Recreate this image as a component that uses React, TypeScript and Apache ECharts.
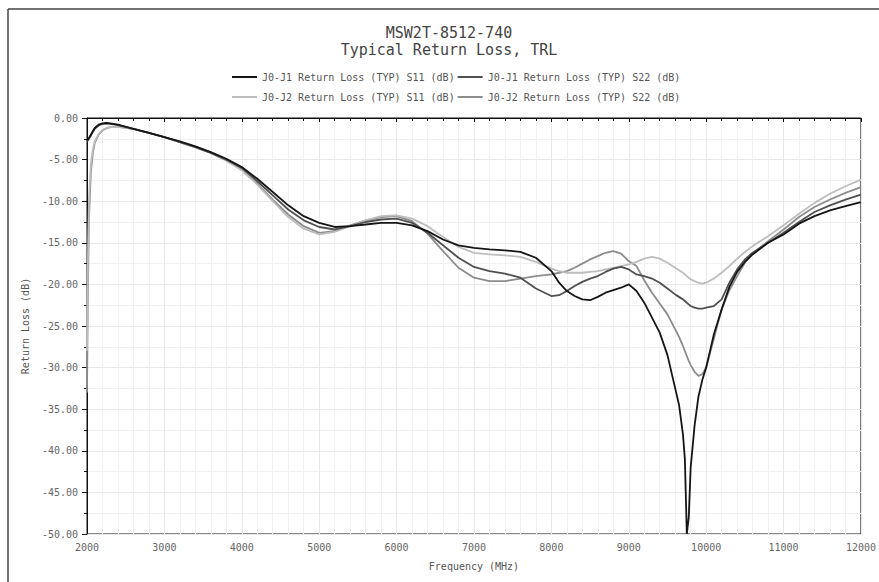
import React, { useEffect, useRef } from "react";
import * as echarts from "echarts";

const freqMHz = [2000, 2010, 2025, 2050, 2075, 2100, 2150, 2200, 2250, 2300, 2400, 2600, 2800, 3000, 3200, 3400, 3600, 3800, 4000, 4200, 4400, 4600, 4800, 5000, 5200, 5400, 5600, 5800, 6000, 6200, 6400, 6600, 6800, 7000, 7200, 7400, 7600, 7800, 8000, 8100, 8200, 8300, 8400, 8500, 8600, 8700, 8800, 8900, 9000, 9100, 9200, 9300, 9400, 9500, 9600, 9650, 9700, 9725, 9750, 9775, 9800, 9850, 9900, 9950, 10000, 10100, 10200, 10300, 10400, 10500, 10600, 10800, 11000, 11200, 11400, 11600, 11800, 12000];

const j1S11 = [-2.7, -2.6, -2.4, -2.0, -1.6, -1.2, -0.8, -0.65, -0.6, -0.65, -0.8, -1.3, -1.8, -2.3, -2.8, -3.4, -4.1, -4.9, -5.9, -7.3, -8.9, -10.5, -11.8, -12.6, -13.1, -13.0, -12.8, -12.6, -12.6, -12.9, -13.6, -14.6, -15.3, -15.6, -15.8, -15.9, -16.1, -16.8, -18.4, -19.8, -20.8, -21.4, -21.8, -21.9, -21.5, -21.0, -20.7, -20.4, -20.0, -20.8, -22.2, -24.0, -25.8, -28.5, -32.5, -34.5, -38.0, -41.0, -50.0, -48.0, -42.0, -37.0, -33.5, -31.5, -30.0, -26.0, -23.0, -20.3, -18.5, -17.3, -16.4, -15.0, -14.0, -12.7, -11.8, -11.1, -10.6, -10.1];

const j1S22 = [-2.8, -2.7, -2.5, -2.1, -1.7, -1.3, -0.9, -0.7, -0.65, -0.7, -0.85, -1.3, -1.8, -2.3, -2.9, -3.5, -4.2, -5.0, -6.0, -7.6, -9.3, -11.0, -12.3, -13.1, -13.4, -13.0, -12.5, -12.2, -12.1, -12.6, -13.8, -15.3, -16.8, -17.9, -18.4, -18.7, -19.2, -20.5, -21.4, -21.3, -20.8, -20.2, -19.7, -19.3, -19.0, -18.5, -18.1, -17.9, -18.2, -18.8, -19.0, -19.3, -19.8, -20.5, -21.2, -21.5, -21.8, -22.0, -22.2, -22.4, -22.6, -22.8, -22.9, -22.9, -22.8, -22.6, -21.8, -19.8, -18.2, -17.0, -16.2, -15.0, -13.8, -12.5, -11.3, -10.5, -9.8, -9.2];

const j2S11 = [-28.0, -18.0, -10.0, -5.5, -3.8, -2.8, -1.9, -1.45, -1.2, -1.1, -1.05, -1.3, -1.8, -2.3, -2.9, -3.5, -4.2, -5.1, -6.3, -8.0, -10.0, -11.9, -13.3, -14.0, -13.7, -13.0, -12.3, -11.8, -11.7, -12.1, -13.0, -14.3, -15.5, -16.2, -16.4, -16.5, -16.7, -17.3, -18.1, -18.4, -18.6, -18.6, -18.6, -18.5, -18.4, -18.2, -18.0, -17.8, -17.6, -17.3, -16.9, -16.7, -16.9, -17.4, -18.0, -18.3, -18.6, -18.8, -19.0, -19.2, -19.4, -19.6, -19.8, -19.9, -19.8, -19.3, -18.6, -17.8, -16.9, -16.1, -15.4, -14.2, -12.9, -11.5, -10.2, -9.1, -8.2, -7.4];

const j2S22 = [-33.0, -22.0, -12.0, -6.5, -4.2, -3.0, -2.0, -1.5, -1.25, -1.1, -1.05, -1.3, -1.8, -2.3, -2.9, -3.5, -4.2, -5.1, -6.2, -7.9, -9.8, -11.6, -13.0, -13.8, -13.6, -12.9, -12.3, -11.9, -11.8, -12.4, -13.9, -16.0, -18.0, -19.2, -19.6, -19.6, -19.3, -19.0, -18.8, -18.6, -18.4, -18.0, -17.5, -17.0, -16.6, -16.2, -16.0, -16.3, -17.2, -17.8, -19.5, -21.0, -22.3, -23.6, -25.4, -26.3, -27.4, -28.0, -28.6, -29.2, -29.7, -30.5, -31.0, -30.8, -30.0, -26.5, -23.0, -20.7, -19.0, -17.4, -16.3, -14.8, -13.4, -11.9, -10.7, -9.8, -9.0, -8.3];

const seriesNames = [
  "J0-J1 Return Loss (TYP) S11 (dB)",
  "J0-J1 Return Loss (TYP) S22 (dB)",
  "J0-J2 Return Loss (TYP) S11 (dB)",
  "J0-J2 Return Loss (TYP) S22 (dB)",
];
const seriesValues = [j1S11, j1S22, j2S11, j2S22];
const seriesColors = ["#151515", "#505050", "#bdbdbd", "#8c8c8c"];

const titleLines = ["MSW2T-8512-740", "Typical Return Loss, TRL"];
const xAxisTitle = "Frequency (MHz)";
const yAxisTitle = "Return Loss (dB)";

const MONO = "'DejaVu Sans Mono', 'Liberation Mono', monospace";

export default function App() {
  const ref = useRef<HTMLDivElement>(null);
  useEffect(() => {
    if (!ref.current) return;
    const chart = echarts.init(ref.current, undefined, { renderer: "svg" });
    const series = seriesNames.map((name, i) => ({
      name,
      type: "line",
      symbol: "none",
      showSymbol: false,
      data: freqMHz.map((f, k) => [f, seriesValues[i][k]]),
      lineStyle: { color: seriesColors[i], width: 1.8 },
      itemStyle: { color: seriesColors[i] },
      z: 10 - i,
    }));
    const legendCommon = {
      left: 232,
      padding: 0,
      itemGap: 3,
      itemWidth: 25,
      itemHeight: 2,
      icon: "rect",
      textStyle: { fontFamily: MONO, fontSize: 10, color: "#555" },
    };
    chart.setOption({
      animation: false,
      backgroundColor: "#ffffff",
      title: {
        text: titleLines.join("\n"),
        left: 449,
        top: 24,
        padding: 0,
        textAlign: "center",
        textStyle: {
          fontFamily: MONO,
          fontSize: 15,
          fontWeight: "normal",
          color: "#444",
          lineHeight: 17,
        },
      },
      legend: [
        { ...legendCommon, data: [seriesNames[0], seriesNames[1]], top: 72 },
        { ...legendCommon, data: [seriesNames[2], seriesNames[3]], top: 92 },
      ],
      grid: {
        left: 87,
        right: 16,
        top: 118,
        bottom: 48,
        show: true,
        borderColor: "#111",
        borderWidth: 1,
        backgroundColor: "transparent",
      },
      xAxis: {
        type: "value",
        min: 2000,
        max: 12000,
        interval: 1000,
        name: xAxisTitle,
        nameLocation: "middle",
        nameGap: 27,
        nameTextStyle: { fontFamily: MONO, fontSize: 10, color: "#555" },
        axisLine: { show: true, lineStyle: { color: "#111", width: 1 } },
        axisTick: { show: true, length: 4, lineStyle: { color: "#111" } },
        minorTick: { show: true, splitNumber: 5, length: 3, lineStyle: { color: "#111" } },
        axisLabel: {
          fontFamily: MONO,
          fontSize: 10,
          color: "#666",
          margin: 8,
          formatter: (v: number) => String(v),
        },
        splitLine: { show: true, lineStyle: { color: "#e8e8e8", width: 1 } },
        minorSplitLine: { show: true, lineStyle: { color: "#f1f1f1", width: 1 } },
      },
      yAxis: {
        type: "value",
        min: -50,
        max: 0,
        interval: 5,
        name: yAxisTitle,
        nameLocation: "middle",
        nameGap: 44,
        nameTextStyle: { fontFamily: MONO, fontSize: 10, color: "#555" },
        axisLine: { show: true, lineStyle: { color: "#111", width: 1 } },
        axisTick: { show: true, length: 5, lineStyle: { color: "#111" } },
        minorTick: { show: true, splitNumber: 2, length: 3, lineStyle: { color: "#111" } },
        axisLabel: {
          fontFamily: MONO,
          fontSize: 10,
          color: "#666",
          margin: 9,
          formatter: (v: number) => v.toFixed(2),
        },
        splitLine: { show: true, lineStyle: { color: "#e8e8e8", width: 1 } },
        minorSplitLine: { show: true, lineStyle: { color: "#f1f1f1", width: 1 } },
      },
      graphic: [
        { type: "line", shape: { x1: 8, y1: 9, x2: 879, y2: 9 }, style: { stroke: "#444", lineWidth: 1.5 } },
        { type: "line", shape: { x1: 8, y1: 9, x2: 8, y2: 582 }, style: { stroke: "#444", lineWidth: 1.5 } },
      ],
      series,
    });
    return () => chart.dispose();
  }, []);
  return (
    <div
      ref={ref}
      style={{ position: "fixed", left: 0, top: 0, width: 879, height: 582 }}
    />
  );
}
